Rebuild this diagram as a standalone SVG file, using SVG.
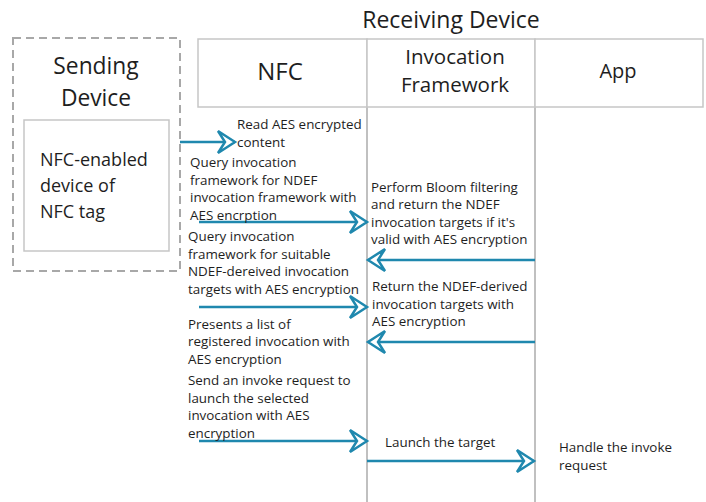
<svg xmlns="http://www.w3.org/2000/svg" width="706" height="502" viewBox="0 0 706 502">
<style>
text{font-family:"Open Sans","Noto Sans","DejaVu Sans",sans-serif;fill:#1e1e1e}
.sm{font-size:13.4px}
.hd{stroke:#c6c6c6;stroke-width:1.5;fill:#fff}
.life{stroke:#c0c0c0;stroke-width:2}
.arr{stroke:#1f88ae;stroke-width:2.5;fill:none;marker-end:url(#ah)}
</style>
<defs>
<marker id="ah" markerUnits="userSpaceOnUse" markerWidth="26" markerHeight="26" viewBox="0 0 26 26" refX="21" refY="13" orient="auto">
<path d="M21,13 L4,2 L11,13 L4,24 Z" fill="#fff" stroke="#1f88ae" stroke-width="2.5" stroke-linejoin="miter"/>
</marker>
</defs>
<rect width="706" height="502" fill="#fff"/>
<text x="451" y="28" text-anchor="middle" font-size="23">Receiving Device</text>
<g id="sending-device">
<rect x="13" y="38" width="167" height="233" fill="none" stroke="#a8a8a8" stroke-width="2" stroke-dasharray="8 5"/>
<text x="96" y="74" text-anchor="middle" font-size="22.8">Sending</text>
<text x="96" y="106" text-anchor="middle" font-size="22.8">Device</text>
</g>
<g id="nfc-tag">
<rect x="24" y="120" width="145" height="131" fill="#fff" stroke="#c6c6c6" stroke-width="1.5"/>
<text x="40" y="166" font-size="18">NFC-enabled</text>
<text x="40" y="192" font-size="18">device of</text>
<text x="40" y="218" font-size="18">NFC tag</text>
</g>
<g id="lifelines">
<line class="life" x1="367" y1="107" x2="367" y2="502"/>
<line class="life" x1="535" y1="107" x2="535" y2="502"/>
</g>
<g id="nfc">
<rect class="hd" x="198" y="39" width="169" height="68"/>
<text x="280" y="80" text-anchor="middle" font-size="24">NFC</text>
</g>
<g id="invocation-framework">
<rect class="hd" x="367" y="39" width="168" height="68"/>
<text x="455" y="64" text-anchor="middle" font-size="20.5">Invocation</text>
<text x="455" y="92" text-anchor="middle" font-size="20.5">Framework</text>
</g>
<g id="app">
<rect class="hd" x="535" y="39" width="168" height="68"/>
<text x="618" y="78" text-anchor="middle" font-size="20">App</text>
</g>
<g id="connectors">
<line class="arr" x1="180" y1="142" x2="235" y2="142"/>
<line class="arr" x1="199" y1="222" x2="367" y2="222"/>
<line class="arr" x1="535" y1="260" x2="368" y2="260"/>
<line class="arr" x1="199" y1="307" x2="367" y2="307"/>
<line class="arr" x1="535" y1="342" x2="368" y2="342"/>
<line class="arr" x1="199" y1="441" x2="367" y2="441"/>
<line class="arr" x1="367" y1="461" x2="534" y2="461"/>
</g>
<g id="labels">
<text class="sm" x="237" y="129">Read AES encrypted</text>
<text class="sm" x="237" y="146.5">content</text>
<text class="sm" x="190" y="167">Query invocation</text>
<text class="sm" x="190" y="184.5">framework for NDEF</text>
<text class="sm" x="190" y="202">invocation framework with</text>
<text class="sm" x="190" y="219.5">AES encrption</text>
<text class="sm" x="188" y="241">Query invocation</text>
<text class="sm" x="188" y="258.5">framework for suitable</text>
<text class="sm" x="188" y="276">NDEF-dereived invocation</text>
<text class="sm" x="188" y="293.5">targets with AES encryption</text>
<text class="sm" x="188" y="328.5">Presents a list of</text>
<text class="sm" x="188" y="346">registered invocation with</text>
<text class="sm" x="188" y="363.5">AES encryption</text>
<text class="sm" x="188" y="385">Send an invoke request to</text>
<text class="sm" x="188" y="402.5">launch the selected</text>
<text class="sm" x="188" y="420">invocation with AES</text>
<text class="sm" x="188" y="437.5">encryption</text>
<text class="sm" x="371" y="191.5">Perform Bloom filtering</text>
<text class="sm" x="371" y="209">and return the NDEF</text>
<text class="sm" x="371" y="226.5">invocation targets if it's</text>
<text class="sm" x="371" y="244">valid with AES encryption</text>
<text class="sm" x="372" y="291">Return the NDEF-derived</text>
<text class="sm" x="372" y="308.5">invocation targets with</text>
<text class="sm" x="372" y="326">AES encryption</text>
<text class="sm" x="385" y="447">Launch the target</text>
<text class="sm" x="559" y="452">Handle the invoke</text>
<text class="sm" x="559" y="470">request</text>
</g>
</svg>
